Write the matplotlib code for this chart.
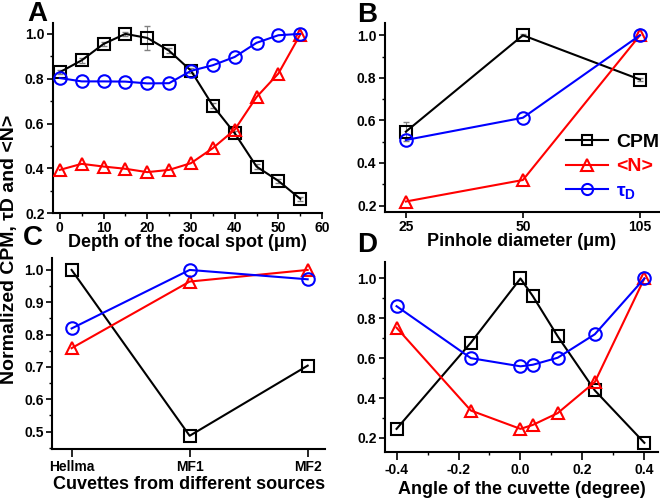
# Four-panel normalized CPM / <N> / tau_D figure

import numpy as np
import matplotlib.pyplot as plt
from matplotlib.ticker import MultipleLocator
from matplotlib.lines import Line2D

plt.rcParams['font.family'] = ['Liberation Sans', 'DejaVu Sans']
plt.rcParams['font.weight'] = 'bold'
plt.rcParams['axes.unicode_minus'] = False
plt.rcParams['mathtext.fontset'] = 'custom'
plt.rcParams['mathtext.rm'] = 'Liberation Sans:bold'
plt.rcParams['mathtext.it'] = 'Liberation Sans:bold'

#---------------------- DATA ------------------------#

# A: depth of focal spot
depth = [0, 5, 10, 15, 20, 25, 30, 35, 40, 45, 50, 55]
cpm_a = [0.829, 0.882, 0.955, 1.0, 0.982, 0.925, 0.836, 0.68, 0.557, 0.408, 0.344, 0.264]
cpm_a_err = [0.01, 0.01, 0.01, 0.01, 0.055, 0.01, 0.01, 0.01, 0.01, 0.01, 0.01, 0.01]
n_a = [0.393, 0.42, 0.408, 0.398, 0.383, 0.393, 0.423, 0.49, 0.572, 0.718, 0.823, 0.997]
tau_a = [0.803, 0.788, 0.788, 0.787, 0.779, 0.78, 0.835, 0.86, 0.897, 0.96, 0.994, 1.0]

# B: pinhole diameter
pinhole = ['25', '50', '105']
cpm_b = [0.547, 1.0, 0.792]
cpm_b_err = [0.045, 0.005, 0.005]
n_b = [0.219, 0.32, 1.0]
tau_b = [0.508, 0.6125, 1.0]

# C: cuvettes
cuvettes = ['Hellma', 'MF1', 'MF2']
cpm_c = [1.0, 0.487, 0.704]
n_c = [0.758, 0.964, 1.0]
tau_c = [0.819, 1.0, 0.971]

# D: angle of cuvette
angle = [-0.4, -0.16, 0.0, 0.04, 0.12, 0.24, 0.4]
cpm_d = [0.245, 0.678, 1.0, 0.911, 0.71, 0.438, 0.175]
n_d = [0.753, 0.337, 0.245, 0.265, 0.324, 0.48, 1.0]
tau_d = [0.861, 0.60, 0.559, 0.567, 0.602, 0.72, 1.0]

#---------------------- STYLE ------------------------#

styles = {
    'cpm': dict(color='black', marker='s', ms=8),
    'n': dict(color='red', marker='^', ms=9),
    'tau': dict(color='blue', marker='o', ms=9),
}

def draw(ax, x, y, key, yerr=None):
    st = styles[key]
    if yerr is not None:
        ax.errorbar(x, y, yerr=yerr, fmt='none', ecolor='gray', elinewidth=0.8,
                    capsize=2, zorder=2)
    ax.plot(x, y, color=st['color'], lw=1.5, marker=st['marker'], ms=st['ms'],
            mfc='none', mec=st['color'], mew=1.5, zorder=3)

def style_axes(ax):
    ax.spines['top'].set_visible(False)
    ax.spines['right'].set_visible(False)
    ax.spines['left'].set_linewidth(1.5)
    ax.spines['bottom'].set_linewidth(1.5)
    ax.tick_params(which='major', direction='out', length=4, width=1.2, labelsize=10, pad=2)
    ax.tick_params(which='minor', direction='out', length=2.5, width=1.0)

fig = plt.figure(figsize=(6.6, 4.98), dpi=100)

axA = fig.add_axes([0.080, 0.572, 0.408, 0.382])
axB = fig.add_axes([0.583, 0.574, 0.415, 0.380])
axC = fig.add_axes([0.079, 0.098, 0.414, 0.384])
axD = fig.add_axes([0.583, 0.092, 0.414, 0.382])

# A
draw(axA, depth, cpm_a, 'cpm', cpm_a_err)
draw(axA, depth, n_a, 'n')
draw(axA, depth, tau_a, 'tau')
axA.set_xlim(-1.6, 60)
axA.set_ylim(0.2, 1.049)
axA.xaxis.set_major_locator(MultipleLocator(10))
axA.xaxis.set_minor_locator(MultipleLocator(5))
axA.yaxis.set_major_locator(MultipleLocator(0.2))
axA.yaxis.set_minor_locator(MultipleLocator(0.1))
axA.set_xlabel('Depth of the focal spot (\u03bcm)', fontsize=13, fontweight='bold', labelpad=-1)
style_axes(axA)

# B
xb = np.arange(len(pinhole))
draw(axB, xb, cpm_b, 'cpm', cpm_b_err)
draw(axB, xb, n_b, 'n')
draw(axB, xb, tau_b, 'tau')
axB.set_xlim(-0.18, 2.16)
axB.set_ylim(0.169, 1.058)
axB.set_xticks(xb)
axB.set_xticklabels(pinhole)
axB.yaxis.set_major_locator(MultipleLocator(0.2))
axB.yaxis.set_minor_locator(MultipleLocator(0.1))
axB.set_xlabel('Pinhole diameter (\u03bcm)', fontsize=13, fontweight='bold', labelpad=-1)
style_axes(axB)

handles = [Line2D([], [], color=styles[k]['color'], lw=1.5, marker=styles[k]['marker'],
                  ms=styles[k]['ms'] - 1, mfc='none', mew=1.5) for k in ['cpm', 'n', 'tau']]
leg = axB.legend(handles, ['CPM', '<N>', r'$\tau_D$'], loc='lower right',
                 bbox_to_anchor=(1.066, -0.033), frameon=False,
                 handlelength=2.2, handletextpad=0.4, labelspacing=0.35,
                 prop={'weight': 'bold', 'size': 14})
for txt, k in zip(leg.get_texts(), ['cpm', 'n', 'tau']):
    txt.set_color(styles[k]['color'])

# C
xc = np.arange(len(cuvettes))
draw(axC, xc, cpm_c, 'cpm')
draw(axC, xc, n_c, 'n')
draw(axC, xc, tau_c, 'tau')
axC.set_xlim(-0.165, 2.15)
axC.set_ylim(0.4455, 1.037)
axC.set_xticks(xc)
axC.set_xticklabels(cuvettes)
axC.yaxis.set_major_locator(MultipleLocator(0.1))
axC.yaxis.set_minor_locator(MultipleLocator(0.05))
axC.set_xlabel('Cuvettes from different sources', fontsize=13, fontweight='bold', labelpad=1)
style_axes(axC)
axC.tick_params(axis='x', which='major', length=6)

# D
draw(axD, angle, cpm_d, 'cpm')
draw(axD, angle, n_d, 'n')
draw(axD, angle, tau_d, 'tau')
axD.set_xlim(-0.438, 0.444)
axD.set_ylim(0.128, 1.083)
axD.xaxis.set_major_locator(MultipleLocator(0.2))
axD.xaxis.set_minor_locator(MultipleLocator(0.1))
axD.yaxis.set_major_locator(MultipleLocator(0.2))
axD.yaxis.set_minor_locator(MultipleLocator(0.1))
axD.set_xlabel('Angle of the cuvette (degree)', fontsize=13, fontweight='bold', labelpad=3)
style_axes(axD)
axD.tick_params(axis='x', which='major', length=6)

# panel letters and shared y label
for lab, x, y in [('A', 0.041, 0.972), ('B', 0.541, 0.970), ('C', 0.035, 0.522), ('D', 0.541, 0.508)]:
    fig.text(x, y, lab, fontsize=20, fontweight='bold', ha='left', va='center')

fig.text(0.015, 0.50, 'Normalized CPM, \u03c4D and <N>', rotation=90, fontsize=14,
         fontweight='bold', ha='center', va='center')

fig.savefig('out.png', dpi=100)
